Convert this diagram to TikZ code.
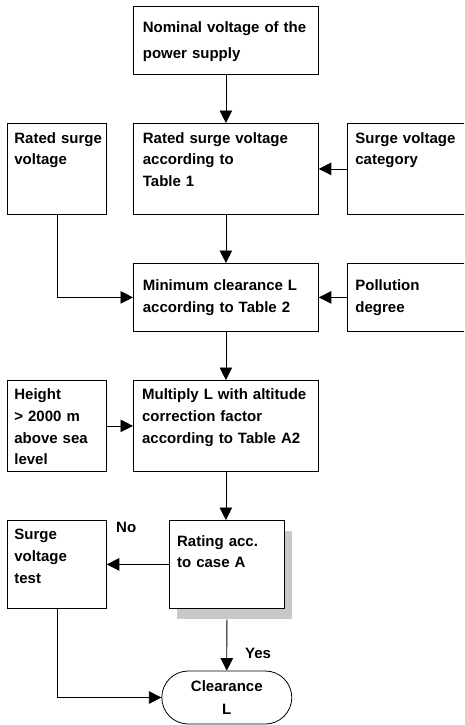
\documentclass[tikz,border=0pt]{standalone}
\usepackage{fontspec}
\setmainfont{Liberation Sans}
\usetikzlibrary{positioning,arrows.meta,shapes.misc,shadows}
\definecolor{shadowgray}{RGB}{199,200,202}

\begin{document}
\begin{tikzpicture}[x=1pt,y=-1pt,
    block/.style={draw,line width=0.8pt,fill=white,anchor=north west,align=left,
      inner xsep=7pt,inner ysep=0pt,font=\fontsize{15}{21.7}\selectfont\bfseries},
    terminal/.style={draw,line width=0.8pt,rounded rectangle,align=center,
      minimum width=130pt,minimum height=53pt,inner sep=0pt,
      font=\fontsize{15}{22.3}\selectfont\bfseries},
    arr/.style={line width=0.8pt,-{Triangle[length=12.5pt,width=12.5pt]}},
    lbl/.style={anchor=base west,inner sep=0pt,font=\fontsize{15}{21.7}\selectfont\bfseries}]
  \clip (0,0) rectangle (464,725);
  % middle column
  \node[block,inner xsep=9.5pt,text width=166pt,text height=26.3pt,text depth=41.7pt] (nominal) at (133,6)
    {Nominal voltage of the\\[4.3pt]power supply};
  \node[block,inner xsep=9.5pt,text width=166pt,text height=19.7pt,text depth=71.3pt] (rated) at (133,123)
    {Rated surge voltage\\according to\\Table 1};
  \node[block,inner xsep=9.5pt,text width=166pt,text height=27pt,text depth=41pt] (minimum) at (133,263)
    {Minimum clearance L\\according to Table 2};
  \node[block,inner xsep=8.7pt,text width=167.6pt,text height=19.3pt,text depth=71.7pt] (multiply) at (133,380)
    {Multiply L with altitude\\correction factor\\according to Table A2};
  \node[block,inner xsep=7.7pt,text width=99.6pt,text height=25.7pt,text depth=62.3pt,
    drop shadow={shadow xshift=8pt,shadow yshift=-10.5pt,fill=shadowgray,opacity=1}] (rating) at (169,520)
    {Rating acc.\\to case A};
  \node[terminal] (clear) at (226.8,697.5) {Clearance\\L};
  % side boxes
  \node[block,text width=85pt,text height=19.7pt,text depth=71.3pt] (rsv) at (7,123)
    {Rated~surge\\voltage};
  \node[block,inner xsep=8pt,text width=134pt,text height=19.7pt,text depth=71.3pt] (category) at (347,123)
    {Surge voltage\\category};
  \node[block,inner xsep=8pt,text width=134pt,text height=27pt,text depth=41pt] (pollution) at (347,263)
    {Pollution\\degree};
  \node[block,text width=85pt,text height=19.3pt,text depth=71.7pt] (height) at (7,380)
    {Height\\> 2000 m\\above sea\\level};
  \node[block,text width=85pt,text height=19.3pt,text depth=68.7pt] (test) at (7,520)
    {Surge\\voltage\\test};
  \node[lbl] (no) at (116,532.3) {No};
  \node[lbl] (yes) at (245,658.3) {Yes};
  % connectors
  \draw[arr] (nominal.south) -- (rated.north);
  \draw[arr] (category.west) -- (rated.east);
  \draw[arr] (rsv.south) |- (minimum.west);
  \draw[arr] (rated.south) -- (minimum.north);
  \draw[arr] (pollution.west) -- (minimum.east);
  \draw[arr] (minimum.south) -- (multiply.north);
  \draw[arr] (height.east) -- (multiply.west);
  \draw[arr] (multiply.south) -- (multiply.south |- rating.north);
  \draw[arr] (rating.west) -- (test.east);
  \draw[arr] ([yshift=-10.5pt]rating.south) -- (clear.north);
  \draw[arr] (test.south) |- (clear.west);
\end{tikzpicture}
\end{document}
